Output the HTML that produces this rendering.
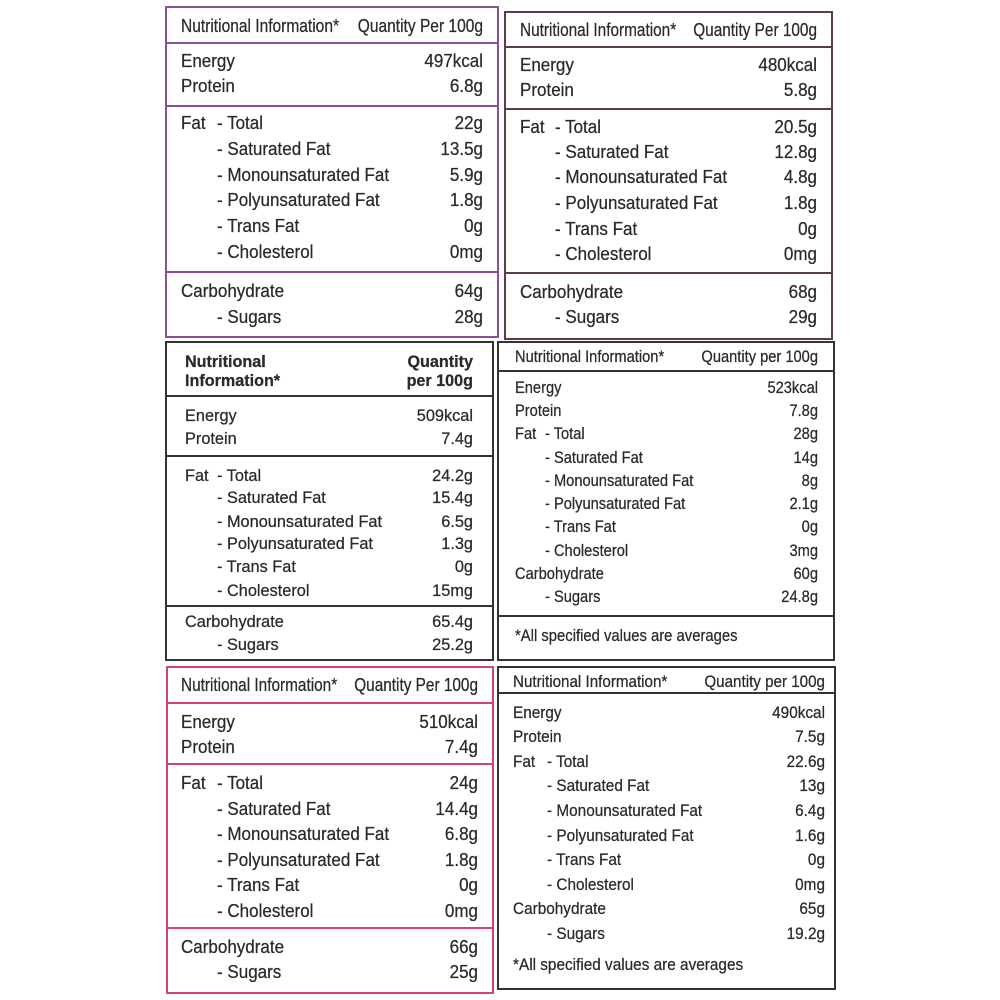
<!DOCTYPE html>
<html><head><meta charset="utf-8">
<style>
html,body{margin:0;padding:0;background:#fff;}
svg{display:block;}
text{font-family:"Liberation Sans",Arial,sans-serif;fill:#2a2a2a;stroke:#2a2a2a;stroke-width:0.25;}
.e{text-anchor:end;}
.b{font-weight:bold;}
</style></head>
<body>
<svg width="1000" height="1000" viewBox="0 0 1000 1000" xmlns="http://www.w3.org/2000/svg">
<rect width="1000" height="1000" fill="#fff"/>

<!-- Panel 1 purple -->
<g fill="none" stroke="#8a4f98" stroke-width="2">
<rect x="166" y="7" width="332" height="330"/>
<line x1="166" y1="43" x2="498" y2="43"/>
<line x1="166" y1="106" x2="498" y2="106"/>
<line x1="166" y1="272" x2="498" y2="272"/>
</g>
<g font-size="18.5">
<text transform="translate(181 32) scale(0.84 1)">Nutritional Information*</text>
<text class="e" transform="translate(483 32) scale(0.84 1)">Quantity Per 100g</text>
<text transform="translate(181 67) scale(0.92 1)">Energy</text>
<text class="e" transform="translate(483 67) scale(0.92 1)">497kcal</text>
<text transform="translate(181 92) scale(0.92 1)">Protein</text>
<text class="e" transform="translate(483 92) scale(0.92 1)">6.8g</text>
<text transform="translate(181 129) scale(0.92 1)">Fat</text>
<text transform="translate(217 129) scale(0.92 1)">- Total</text>
<text class="e" transform="translate(483 129) scale(0.92 1)">22g</text>
<text transform="translate(217 155) scale(0.92 1)">- Saturated Fat</text>
<text class="e" transform="translate(483 155) scale(0.92 1)">13.5g</text>
<text transform="translate(217 181) scale(0.92 1)">- Monounsaturated Fat</text>
<text class="e" transform="translate(483 181) scale(0.92 1)">5.9g</text>
<text transform="translate(217 206) scale(0.92 1)">- Polyunsaturated Fat</text>
<text class="e" transform="translate(483 206) scale(0.92 1)">1.8g</text>
<text transform="translate(217 232) scale(0.92 1)">- Trans Fat</text>
<text class="e" transform="translate(483 232) scale(0.92 1)">0g</text>
<text transform="translate(217 258) scale(0.92 1)">- Cholesterol</text>
<text class="e" transform="translate(483 258) scale(0.92 1)">0mg</text>
<text transform="translate(181 297) scale(0.92 1)">Carbohydrate</text>
<text class="e" transform="translate(483 297) scale(0.92 1)">64g</text>
<text transform="translate(217 323) scale(0.92 1)">- Sugars</text>
<text class="e" transform="translate(483 323) scale(0.92 1)">28g</text>
</g>

<!-- Panel 2 dark plum -->
<g fill="none" stroke="#5a3b47" stroke-width="2">
<rect x="505" y="12" width="327" height="327"/>
<line x1="505" y1="47" x2="832" y2="47"/>
<line x1="505" y1="109" x2="832" y2="109"/>
<line x1="505" y1="273" x2="832" y2="273"/>
</g>
<g font-size="18.5">
<text transform="translate(520 36) scale(0.83 1)">Nutritional Information*</text>
<text class="e" transform="translate(817 36) scale(0.83 1)">Quantity Per 100g</text>
<text transform="translate(520 71) scale(0.92 1)">Energy</text>
<text class="e" transform="translate(817 71) scale(0.92 1)">480kcal</text>
<text transform="translate(520 96) scale(0.92 1)">Protein</text>
<text class="e" transform="translate(817 96) scale(0.92 1)">5.8g</text>
<text transform="translate(520 133) scale(0.92 1)">Fat</text>
<text transform="translate(555 133) scale(0.92 1)">- Total</text>
<text class="e" transform="translate(817 133) scale(0.92 1)">20.5g</text>
<text transform="translate(555 158) scale(0.92 1)">- Saturated Fat</text>
<text class="e" transform="translate(817 158) scale(0.92 1)">12.8g</text>
<text transform="translate(555 183) scale(0.92 1)">- Monounsaturated Fat</text>
<text class="e" transform="translate(817 183) scale(0.92 1)">4.8g</text>
<text transform="translate(555 209) scale(0.92 1)">- Polyunsaturated Fat</text>
<text class="e" transform="translate(817 209) scale(0.92 1)">1.8g</text>
<text transform="translate(555 235) scale(0.92 1)">- Trans Fat</text>
<text class="e" transform="translate(817 235) scale(0.92 1)">0g</text>
<text transform="translate(555 260) scale(0.92 1)">- Cholesterol</text>
<text class="e" transform="translate(817 260) scale(0.92 1)">0mg</text>
<text transform="translate(520 298) scale(0.92 1)">Carbohydrate</text>
<text class="e" transform="translate(817 298) scale(0.92 1)">68g</text>
<text transform="translate(555 323) scale(0.92 1)">- Sugars</text>
<text class="e" transform="translate(817 323) scale(0.92 1)">29g</text>
</g>

<!-- Panel 3 dark gray, bold header -->
<g fill="none" stroke="#333" stroke-width="2">
<rect x="166" y="342" width="327" height="318"/>
<line x1="166" y1="396" x2="493" y2="396"/>
<line x1="166" y1="456" x2="493" y2="456"/>
<line x1="166" y1="606" x2="493" y2="606"/>
</g>
<g font-size="17">
<text class="b" transform="translate(185 367) scale(0.95 1)">Nutritional</text>
<text class="b" transform="translate(185 386) scale(0.95 1)">Information*</text>
<text class="b e" transform="translate(473 367) scale(0.95 1)">Quantity</text>
<text class="b e" transform="translate(473 386) scale(0.95 1)">per 100g</text>
<text transform="translate(185 421) scale(0.96 1)">Energy</text>
<text class="e" transform="translate(473 421) scale(0.96 1)">509kcal</text>
<text transform="translate(185 444) scale(0.96 1)">Protein</text>
<text class="e" transform="translate(473 444) scale(0.96 1)">7.4g</text>
<text transform="translate(185 481) scale(0.96 1)">Fat</text>
<text transform="translate(217 481) scale(0.96 1)">- Total</text>
<text class="e" transform="translate(473 481) scale(0.96 1)">24.2g</text>
<text transform="translate(217 503) scale(0.96 1)">- Saturated Fat</text>
<text class="e" transform="translate(473 503) scale(0.96 1)">15.4g</text>
<text transform="translate(217 527) scale(0.96 1)">- Monounsaturated Fat</text>
<text class="e" transform="translate(473 527) scale(0.96 1)">6.5g</text>
<text transform="translate(217 549) scale(0.96 1)">- Polyunsaturated Fat</text>
<text class="e" transform="translate(473 549) scale(0.96 1)">1.3g</text>
<text transform="translate(217 572) scale(0.96 1)">- Trans Fat</text>
<text class="e" transform="translate(473 572) scale(0.96 1)">0g</text>
<text transform="translate(217 596) scale(0.96 1)">- Cholesterol</text>
<text class="e" transform="translate(473 596) scale(0.96 1)">15mg</text>
<text transform="translate(185 627) scale(0.96 1)">Carbohydrate</text>
<text class="e" transform="translate(473 627) scale(0.96 1)">65.4g</text>
<text transform="translate(217 650) scale(0.96 1)">- Sugars</text>
<text class="e" transform="translate(473 650) scale(0.96 1)">25.2g</text>
</g>

<!-- Panel 4 dark -->
<g fill="none" stroke="#333" stroke-width="2">
<rect x="498" y="342" width="336" height="318"/>
<line x1="498" y1="371" x2="834" y2="371"/>
<line x1="498" y1="616" x2="834" y2="616"/>
</g>
<g font-size="16.3">
<text transform="translate(515 362) scale(0.9 1)">Nutritional Information*</text>
<text class="e" transform="translate(818 362) scale(0.9 1)">Quantity per 100g</text>
<text transform="translate(515 393) scale(0.9 1)">Energy</text>
<text class="e" transform="translate(818 393) scale(0.9 1)">523kcal</text>
<text transform="translate(515 416) scale(0.9 1)">Protein</text>
<text class="e" transform="translate(818 416) scale(0.9 1)">7.8g</text>
<text transform="translate(515 439) scale(0.9 1)">Fat</text>
<text transform="translate(545 439) scale(0.9 1)">- Total</text>
<text class="e" transform="translate(818 439) scale(0.9 1)">28g</text>
<text transform="translate(545 463) scale(0.9 1)">- Saturated Fat</text>
<text class="e" transform="translate(818 463) scale(0.9 1)">14g</text>
<text transform="translate(545 486) scale(0.9 1)">- Monounsaturated Fat</text>
<text class="e" transform="translate(818 486) scale(0.9 1)">8g</text>
<text transform="translate(545 509) scale(0.9 1)">- Polyunsaturated Fat</text>
<text class="e" transform="translate(818 509) scale(0.9 1)">2.1g</text>
<text transform="translate(545 532) scale(0.9 1)">- Trans Fat</text>
<text class="e" transform="translate(818 532) scale(0.9 1)">0g</text>
<text transform="translate(545 556) scale(0.9 1)">- Cholesterol</text>
<text class="e" transform="translate(818 556) scale(0.9 1)">3mg</text>
<text transform="translate(515 579) scale(0.9 1)">Carbohydrate</text>
<text class="e" transform="translate(818 579) scale(0.9 1)">60g</text>
<text transform="translate(545 602) scale(0.9 1)">- Sugars</text>
<text class="e" transform="translate(818 602) scale(0.9 1)">24.8g</text>
<text transform="translate(515 641) scale(0.91 1)">*All specified values are averages</text>
</g>

<!-- Panel 5 pink -->
<g fill="none" stroke="#d4436c" stroke-width="2">
<rect x="167" y="667" width="326" height="326"/>
<line x1="167" y1="703" x2="493" y2="703"/>
<line x1="167" y1="764" x2="493" y2="764"/>
<line x1="167" y1="928" x2="493" y2="928"/>
</g>
<g font-size="18.5">
<text transform="translate(181 691) scale(0.83 1)">Nutritional Information*</text>
<text class="e" transform="translate(478 691) scale(0.83 1)">Quantity Per 100g</text>
<text transform="translate(181 728) scale(0.92 1)">Energy</text>
<text class="e" transform="translate(478 728) scale(0.92 1)">510kcal</text>
<text transform="translate(181 753) scale(0.92 1)">Protein</text>
<text class="e" transform="translate(478 753) scale(0.92 1)">7.4g</text>
<text transform="translate(181 789) scale(0.92 1)">Fat</text>
<text transform="translate(217 789) scale(0.92 1)">- Total</text>
<text class="e" transform="translate(478 789) scale(0.92 1)">24g</text>
<text transform="translate(217 815) scale(0.92 1)">- Saturated Fat</text>
<text class="e" transform="translate(478 815) scale(0.92 1)">14.4g</text>
<text transform="translate(217 840) scale(0.92 1)">- Monounsaturated Fat</text>
<text class="e" transform="translate(478 840) scale(0.92 1)">6.8g</text>
<text transform="translate(217 866) scale(0.92 1)">- Polyunsaturated Fat</text>
<text class="e" transform="translate(478 866) scale(0.92 1)">1.8g</text>
<text transform="translate(217 891) scale(0.92 1)">- Trans Fat</text>
<text class="e" transform="translate(478 891) scale(0.92 1)">0g</text>
<text transform="translate(217 917) scale(0.92 1)">- Cholesterol</text>
<text class="e" transform="translate(478 917) scale(0.92 1)">0mg</text>
<text transform="translate(181 953) scale(0.92 1)">Carbohydrate</text>
<text class="e" transform="translate(478 953) scale(0.92 1)">66g</text>
<text transform="translate(217 978) scale(0.92 1)">- Sugars</text>
<text class="e" transform="translate(478 978) scale(0.92 1)">25g</text>
</g>

<!-- Panel 6 dark -->
<g fill="none" stroke="#333" stroke-width="2">
<rect x="498" y="667" width="337" height="322"/>
<line x1="498" y1="693" x2="835" y2="693"/>
</g>
<g font-size="16.5">
<text transform="translate(513 687) scale(0.92 1)">Nutritional Information*</text>
<text class="e" transform="translate(825 687) scale(0.92 1)">Quantity per 100g</text>
<text transform="translate(513 718) scale(0.93 1)">Energy</text>
<text class="e" transform="translate(825 718) scale(0.93 1)">490kcal</text>
<text transform="translate(513 742) scale(0.93 1)">Protein</text>
<text class="e" transform="translate(825 742) scale(0.93 1)">7.5g</text>
<text transform="translate(513 767) scale(0.93 1)">Fat</text>
<text transform="translate(547 767) scale(0.93 1)">- Total</text>
<text class="e" transform="translate(825 767) scale(0.93 1)">22.6g</text>
<text transform="translate(547 791) scale(0.93 1)">- Saturated Fat</text>
<text class="e" transform="translate(825 791) scale(0.93 1)">13g</text>
<text transform="translate(547 816) scale(0.93 1)">- Monounsaturated Fat</text>
<text class="e" transform="translate(825 816) scale(0.93 1)">6.4g</text>
<text transform="translate(547 841) scale(0.93 1)">- Polyunsaturated Fat</text>
<text class="e" transform="translate(825 841) scale(0.93 1)">1.6g</text>
<text transform="translate(547 865) scale(0.93 1)">- Trans Fat</text>
<text class="e" transform="translate(825 865) scale(0.93 1)">0g</text>
<text transform="translate(547 890) scale(0.93 1)">- Cholesterol</text>
<text class="e" transform="translate(825 890) scale(0.93 1)">0mg</text>
<text transform="translate(513 914) scale(0.93 1)">Carbohydrate</text>
<text class="e" transform="translate(825 914) scale(0.93 1)">65g</text>
<text transform="translate(547 939) scale(0.93 1)">- Sugars</text>
<text class="e" transform="translate(825 939) scale(0.93 1)">19.2g</text>
<text transform="translate(513 970) scale(0.93 1)">*All specified values are averages</text>
</g>
</svg>
</body></html>
